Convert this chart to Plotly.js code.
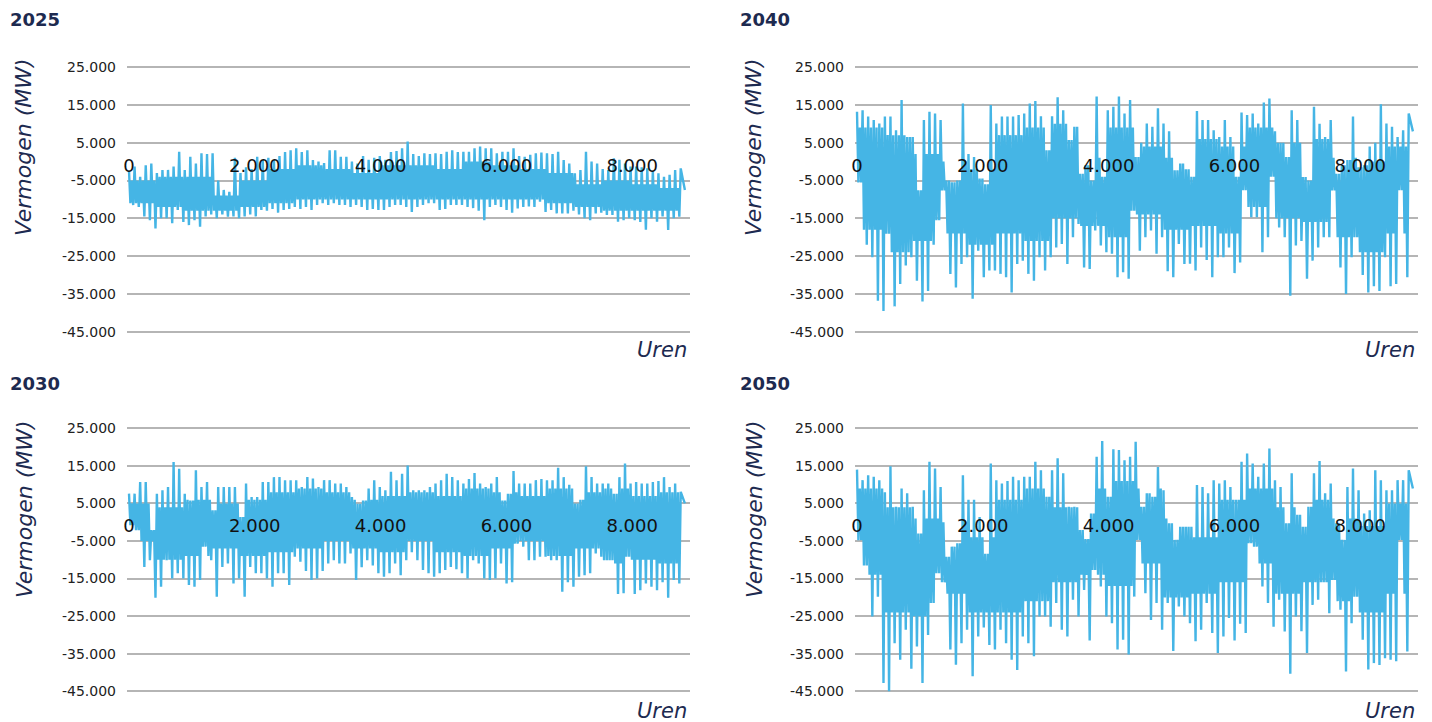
<!DOCTYPE html>
<html><head><meta charset="utf-8">
<script src="https://cdn.plot.ly/plotly-3.0.1.min.js"></script>
<style>html,body{margin:0;padding:0;background:#fff;}#chart{width:1432px;height:722px;}</style>
</head><body><div id="chart"></div>
<script>
// ---- data ----
const panelTitles = ['2025', '2040', '2030', '2050'];
const yTitle = 'Vermogen (MW)';
const xTitle = 'Uren';
const yTickVals = [25000, 15000, 5000, -5000, -15000, -25000, -35000, -45000];
const yTickText = ['25.000', '15.000', '5.000', '-5.000', '-15.000', '-25.000', '-35.000', '-45.000'];
const xTickVals = [0, 2000, 4000, 6000, 8000];
const xTickText = ['0', '2.000', '4.000', '6.000', '8.000'];

// Each series: 100 consecutive windows; per window the highest and lowest value (GW)
const peak2025 = [-2.5,-1.3,-4.0,-1.0,-0.5,-3.0,-2.2,-2.2,-1.3,2.6,-2.2,1.3,-0.5,2.2,2.0,2.2,-5.0,-7.5,-8.0,1.0,-3.0,-1.5,-2.0,1.3,0.5,1.0,0.5,1.5,2.5,3.0,3.5,2.5,3.0,0.4,0.0,-0.4,3.0,3.0,1.3,1.3,0.0,-0.5,1.5,0.5,1.0,1.5,0.5,2.5,2.8,3.5,5.3,2.0,1.5,2.2,2.0,2.2,2.0,2.6,3.0,2.5,2.6,2.6,3.5,4.0,3.5,3.5,2.2,2.6,2.6,3.5,1.5,1.3,1.8,2.2,2.4,2.2,2.0,2.6,0.4,-0.5,-3.1,-2.2,2.6,0.0,-0.5,-2.0,-2.2,0.9,0.5,-0.5,-1.3,-1.3,-1.5,-1.8,-2.5,-3.1,-4.0,-3.5,-2.2,-1.8];
const low2025 = [-11.5,-12.0,-14.5,-15.5,-17.7,-15.0,-15.0,-16.3,-12.8,-16.0,-16.8,-15.5,-17.2,-14.5,-14.0,-15.0,-14.0,-14.6,-14.5,-15.0,-14.5,-14.0,-14.5,-12.8,-13.0,-12.5,-13.5,-12.8,-12.5,-12.0,-12.5,-12.0,-12.8,-11.5,-11.0,-11.5,-11.0,-11.5,-11.5,-12.0,-11.5,-12.0,-12.8,-12.5,-12.8,-12.8,-12.0,-11.5,-11.5,-12.0,-13.3,-12.0,-11.5,-11.0,-11.0,-12.8,-12.5,-11.5,-11.5,-11.5,-12.0,-12.3,-13.0,-15.5,-12.0,-11.5,-12.0,-12.8,-13.5,-12.4,-12.0,-11.9,-12.0,-10.6,-13.3,-12.8,-13.7,-13.7,-13.7,-13.0,-14.0,-15.0,-15.5,-13.7,-13.5,-14.1,-14.1,-15.9,-15.5,-15.0,-15.5,-16.0,-18.0,-15.0,-15.9,-14.5,-18.1,-15.0,-14.6,-7.5];
// dense core of the band, per 20 blocks of 5 windows (GW)
const coreTop2025 = [-5,-4,-4,-9,-5,-2,-1,-2,-3,-1,-1,-2,0,-1,-2,-3,-6,-5,-6,-7];
const coreBot2025 = [-11,-12,-13,-13,-12,-11,-10,-10,-10,-10,-10,-10,-10,-10,-10,-11,-12,-13,-13,-13];

const peak2040 = [13.2,13.6,11.9,11.0,10.1,11.9,11.9,8.3,16.3,6.5,6.5,-7.6,11.0,13.2,12.7,11.0,-5.0,-5.5,-5.0,15.4,2.0,1.2,-4.5,-6.0,15.0,10.1,11.9,11.9,11.9,12.3,12.7,15.4,16.0,12.0,3.0,12.0,17.0,13.6,5.7,9.2,-3.2,-1.0,-5.0,17.2,-4.0,13.6,14.5,17.2,12.7,16.3,1.2,5.0,10.1,9.2,14.1,10.1,8.0,-2.3,-0.5,-2.0,-4.0,13.4,11.0,11.0,8.3,6.5,11.0,6.5,-4.0,13.0,12.3,12.7,10.1,15.6,16.7,8.0,5.0,1.2,13.6,11.0,-4.1,-5.0,14.5,10.0,6.5,11.0,-3.2,-1.0,0.4,11.9,-1.5,-1.0,4.0,5.0,15.2,10.1,9.2,6.5,8.3,12.7];
const low2040 = [-5.5,-22.0,-25.3,-36.8,-39.5,-19.1,-38.3,-32.4,-27.5,-25.3,-31.5,-37.0,-34.2,-22.0,-15.5,-7.6,-29.7,-33.3,-27.1,-25.3,-36.3,-23.6,-30.6,-28.8,-28.8,-29.7,-30.6,-34.6,-27.1,-26.2,-29.7,-31.5,-25.3,-28.8,-25.3,-22.7,-21.8,-27.1,-20.0,-16.5,-28.0,-28.4,-18.2,-22.2,-24.0,-24.4,-30.6,-29.3,-31.0,-13.0,-23.6,-20.0,-18.2,-24.4,-20.0,-29.0,-30.6,-21.8,-27.1,-27.0,-28.8,-22.7,-26.0,-30.6,-25.3,-25.3,-22.7,-29.5,-26.7,-7.6,-14.7,-14.7,-24.0,-20.0,-4.0,-17.4,-20.0,-35.5,-22.2,-21.0,-31.0,-26.2,-22.7,-20.0,-20.0,-7.6,-28.0,-35.0,-25.3,-20.0,-30.0,-34.6,-33.0,-34.2,-25.3,-33.0,-32.4,-7.6,-30.6,8.0];
const coreTop2040 = [9,7,2,0,-2,7,9,10,1,9,4,1,6,4,9,5,6,1,0,4];
const coreBot2040 = [-18,-24,-21,-19,-22,-19,-21,-15,-17,-20,-14,-18,-17,-19,-12,-15,-16,-20,-24,-19];

const peak2030 = [7.6,7.6,10.7,10.7,-2.1,7.6,8.5,9.4,16.0,14.2,7.6,5.8,13.8,9.4,10.7,3.2,9.4,9.4,9.4,9.4,1.4,10.3,6.7,6.7,10.7,10.7,12.0,12.0,11.2,11.2,11.2,9.4,12.0,11.6,9.4,11.2,11.2,10.3,10.3,9.4,6.7,4.9,5.8,9.0,11.2,9.4,8.5,13.4,11.2,12.9,15.1,8.5,8.5,8.5,9.4,10.3,11.2,12.9,12.0,11.2,10.3,11.5,13.1,10.3,9.4,10.3,12.0,5.8,7.6,13.6,10.3,10.3,10.3,11.2,11.5,11.2,11.2,14.5,12.0,10.0,5.0,6.0,14.9,12.0,10.3,10.3,10.3,7.6,12.0,15.6,10.3,10.7,10.3,10.3,10.7,11.0,12.0,9.4,10.3,8.1];
const low2030 = [-0.8,-2.1,-11.9,-10.1,-20.1,-17.2,-10.1,-15.0,-13.6,-15.0,-16.7,-17.2,-15.4,-6.5,-10.1,-19.8,-11.9,-11.0,-16.3,-15.0,-19.8,-11.9,-13.6,-13.6,-15.0,-17.2,-13.6,-13.6,-16.7,-9.2,-10.5,-13.0,-15.4,-15.0,-13.0,-11.0,-10.1,-11.0,-11.0,-8.3,-15.4,-12.0,-10.1,-11.5,-13.6,-14.5,-13.6,-11.0,-14.1,-10.1,-8.0,-10.1,-12.7,-13.6,-14.5,-13.6,-12.7,-11.9,-12.5,-13.6,-15.0,-10.1,-11.0,-15.0,-15.4,-15.0,-11.0,-16.3,-16.0,-5.7,-6.5,-10.1,-10.1,-9.2,-9.2,-10.1,-10.1,-18.5,-16.0,-17.2,-14.5,-14.1,-13.6,-8.3,-9.2,-10.1,-10.1,-19.1,-18.9,-9.2,-19.1,-18.1,-16.3,-17.2,-18.1,-16.0,-20.1,-15.4,-16.3,5.0];
const coreTop2030 = [5,4,6,5,6,8,9,8,6,7,8,7,9,8,7,9,8,9,7,8];
const coreBot2030 = [-5,-10,-9,-7,-9,-8,-7,-5,-7,-8,-5,-8,-9,-7,-5,-9,-7,-11,-10,-11];

const peak2050 = [14.0,11.2,12.5,12.1,11.2,8.0,14.9,4.1,9.0,7.7,4.1,-3.0,8.5,16.1,14.3,9.4,-9.2,-6.5,-5.6,12.5,6.0,6.0,1.4,-8.4,15.6,11.2,10.3,11.0,12.1,11.2,12.1,12.1,16.1,13.8,6.8,13.8,17.0,13.0,4.1,4.1,-2.1,-4.5,2.3,17.4,21.6,6.8,19.4,19.2,16.5,17.4,21.4,4.1,7.7,6.8,14.7,8.5,-0.3,-4.7,-1.2,-1.2,-1.2,9.9,9.4,7.7,11.2,10.3,11.2,9.4,6.0,16.1,18.3,15.6,12.1,15.6,19.6,11.2,9.4,-0.3,13.0,2.0,-1.2,4.1,13.0,16.3,7.7,10.3,-0.3,-4.7,9.4,14.3,8.5,2.3,3.2,13.8,11.2,8.5,8.5,11.2,11.2,13.8];
const low2050 = [-4.8,-11.5,-25.1,-19.8,-42.8,-45.0,-32.2,-36.6,-28.6,-39.0,-33.1,-42.8,-30.0,-21.5,-13.6,-16.0,-33.9,-37.9,-32.2,-28.6,-41.0,-30.4,-28.0,-32.7,-33.9,-28.6,-32.2,-36.6,-39.3,-30.4,-32.2,-35.7,-25.1,-25.1,-27.8,-21.5,-28.6,-30.4,-20.6,-25.1,-18.0,-31.5,-12.7,-17.1,-25.1,-26.9,-33.9,-31.3,-35.2,-19.8,-4.7,-18.9,-26.0,-21.5,-28.6,-21.5,-34.3,-22.4,-25.1,-26.9,-31.7,-28.6,-21.5,-29.5,-34.8,-30.4,-25.5,-31.5,-27.0,-29.5,-5.6,-6.5,-17.1,-21.5,-27.8,-20.6,-29.1,-40.3,-25.1,-29.0,-34.8,-22.0,-20.6,-16.0,-24.2,-15.4,-23.3,-39.7,-26.9,-19.8,-31.3,-39.2,-37.5,-38.0,-36.2,-36.6,-37.0,-4.7,-34.4,9.0];
const coreTop2050 = [9,4,1,0,-4,6,9,4,9,11,9,1,-4,6,9,4,6,1,-1,5];
const coreBot2050 = [-14,-24,-25,-19,-24,-24,-21,-16,-14,-17,-11,-20,-19,-16,-11,-19,-16,-21,-24,-19];

const HOURS_PER_WINDOW = 88.6;   // ~ span of the hourly series / 100 windows
const WINDOWS_PER_BLOCK = 5;
const MW_PER_GW = 1000;

// ---- build: per window peak -> core bottom -> core top -> low ----
function build(peak, low, coreTop, coreBot) {
  const x = [], y = [];
  for (let i = 0; i < peak.length; i++) {
    const b = Math.floor(i / WINDOWS_PER_BLOCK);
    const last = i === peak.length - 1;
    const ct = Math.min(coreTop[b], peak[i]), cb = Math.max(coreBot[b], low[i]);
    x.push(i * HOURS_PER_WINDOW);          y.push(peak[i] * MW_PER_GW);
    if (!last) {
      x.push((i + 0.25) * HOURS_PER_WINDOW); y.push(cb * MW_PER_GW);
      x.push((i + 0.5) * HOURS_PER_WINDOW);  y.push(ct * MW_PER_GW);
    }
    x.push((i + 0.75) * HOURS_PER_WINDOW); y.push(low[i] * MW_PER_GW);
  }
  return {x, y};
}
const seriesList = [
  build(peak2025, low2025, coreTop2025, coreBot2025),
  build(peak2040, low2040, coreTop2040, coreBot2040),
  build(peak2030, low2030, coreTop2030, coreBot2030),
  build(peak2050, low2050, coreTop2050, coreBot2050)
];

const W = 1432, H = 722;
const px = v => v / W, py = v => 1 - v / H;
const LINE = '#45b5e5', GRID = '#b5b5b5', NAVY = '#1d2a50';
const FONT = 'DejaVu Sans, Open Sans, sans-serif';

// panel geometry (pixels): [plotLeft, plotRight, top(25000), bottom(-45000)]
const geo = [[127, 690, 67.1, 331.7], [855, 1418, 67.1, 331.7], [127, 690, 428.3, 691.3], [855, 1418, 428.3, 691.3]];
const Y0 = -45500, Y1 = 25500, X0 = -32, X1 = 8919;

const traces = [];
const layout = {
  width: W, height: H, margin: {l: 0, r: 0, t: 0, b: 0},
  paper_bgcolor: '#fff', plot_bgcolor: 'rgba(0,0,0,0)', showlegend: false,
  annotations: []
};
geo.forEach((g, i) => {
  const n = i === 0 ? '' : String(i + 1);
  const [L, R, T, B] = g;
  const pxPer = (B - T) / 70000;
  const top = T - (Y1 - 25000) * pxPer, bot = B + (-45000 - Y0) * pxPer;
  const zeroPx = T + 25000 * pxPer;
  traces.push({type: 'scatter', mode: 'lines', x: seriesList[i].x, y: seriesList[i].y,
    xaxis: 'x' + n, yaxis: 'y' + n, line: {color: LINE, width: 2.4}, hoverinfo: 'skip'});
  layout['xaxis' + n] = {domain: [px(L), px(R)], range: [X0, X1], anchor: 'free', position: py(zeroPx - 9),
    showgrid: false, zeroline: false, showline: false, ticks: '',
    tickmode: 'array', tickvals: xTickVals, ticktext: xTickText,
    tickfont: {family: FONT, size: 18, color: '#111'}};
  layout['yaxis' + n] = {domain: [py(bot), py(top)], range: [Y0, Y1], anchor: 'x' + n,
    showgrid: true, gridcolor: GRID, gridwidth: 2, zeroline: false, showline: false, ticks: '',
    tickmode: 'array', tickvals: yTickVals, ticktext: yTickText, ticklabelstandoff: 10,
    tickfont: {family: FONT, size: 14, color: '#222'}};
  const leftEdge = i % 2 === 0 ? 0 : 730;
  layout.annotations.push({xref: 'paper', yref: 'paper', x: px(leftEdge + 8), y: py(i < 2 ? 20 : 383), xanchor: 'left', yanchor: 'middle',
    text: panelTitles[i], showarrow: false, font: {family: FONT, size: 18, color: NAVY, weight: 700}});
  layout.annotations.push({xref: 'paper', yref: 'paper', x: px(leftEdge + 24), y: py(i < 2 ? 147 : 509), xanchor: 'center', yanchor: 'middle',
    text: '<i>' + yTitle + '</i>', textangle: -90, showarrow: false, font: {family: FONT, size: 22, color: NAVY}});
  layout.annotations.push({xref: 'paper', yref: 'paper', x: px(R - 1), y: py(i < 2 ? 350 : 711), xanchor: 'right', yanchor: 'middle',
    text: '<i>' + xTitle + '</i>', showarrow: false, font: {family: FONT, size: 21, color: NAVY}});
});
Plotly.newPlot('chart', traces, layout, {displayModeBar: false, staticPlot: true});
</script></body></html>
